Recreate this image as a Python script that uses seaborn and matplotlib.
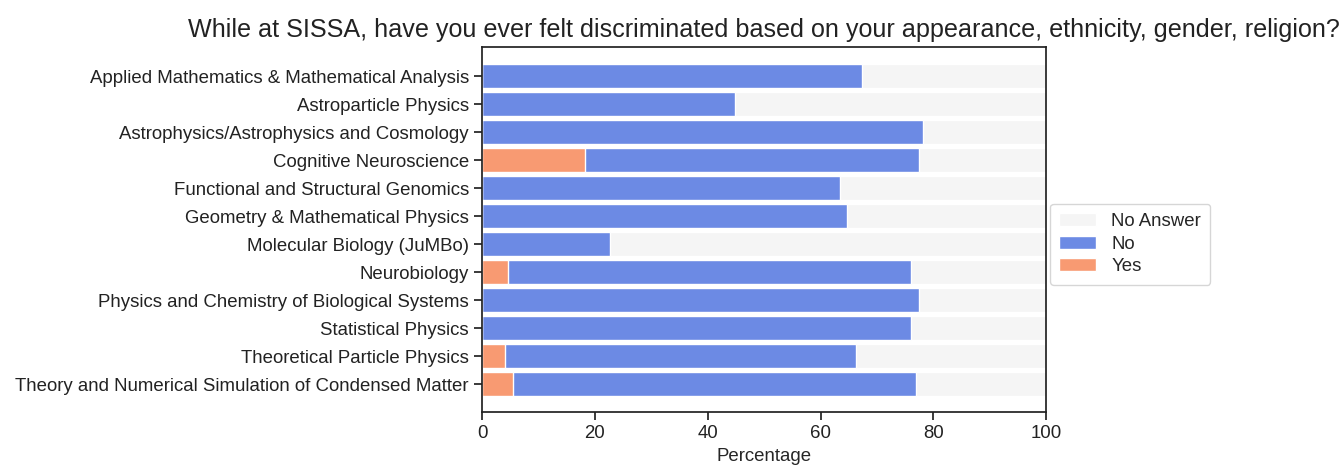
import pandas as pd
import matplotlib
matplotlib.use('Agg')
import matplotlib.pyplot as plt
import seaborn as sns

# --- Data (percentages) ---
groups = [
    'Applied Mathematics & Mathematical Analysis',
    'Astroparticle Physics',
    'Astrophysics/Astrophysics and Cosmology',
    'Cognitive Neuroscience',
    'Functional and Structural Genomics',
    'Geometry & Mathematical Physics',
    'Molecular Biology (JuMBo)',
    'Neurobiology',
    'Physics and Chemistry of Biological Systems',
    'Statistical Physics',
    'Theoretical Particle Physics',
    'Theory and Numerical Simulation of Condensed Matter',
]
yes_pct = [0, 0, 0, 18.3, 0, 0, 0, 4.6, 0, 0, 4.0, 5.5]
no_pct = [67.3, 44.9, 78.2, 59.1, 63.4, 64.7, 22.6, 71.4, 77.4, 76.0, 62.3, 71.4]
no_answer_pct = [32.7, 55.1, 21.8, 22.6, 36.6, 35.3, 77.4, 24.0, 22.6, 24.0, 33.7, 23.1]

df = pd.DataFrame({'Group': groups, 'Yes': yes_pct, 'No': no_pct,
                   'No Answer': no_answer_pct})
df['cum_yes'] = df['Yes']
df['cum_no'] = df['Yes'] + df['No']
df['cum_all'] = df['cum_no'] + df['No Answer']

sns.set_theme(style='ticks')
plt.rcParams['font.family'] = ['Liberation Sans', 'DejaVu Sans']

fig = plt.figure(figsize=(13.43, 4.65), dpi=100)
ax = fig.add_axes([0.359, 0.114, 0.42, 0.785])

sns.barplot(data=df, x='cum_all', y='Group', color='#f5f5f5', orient='h',
            label='No Answer', edgecolor='white', linewidth=1, width=0.85,
            saturation=1, ax=ax)
sns.barplot(data=df, x='cum_no', y='Group', color='#6c8ae4', orient='h',
            label='No', edgecolor='white', linewidth=1, width=0.85,
            saturation=1, ax=ax)
sns.barplot(data=df, x='cum_yes', y='Group', color='#f89a72', orient='h',
            label='Yes', edgecolor='white', linewidth=1, width=0.85,
            saturation=1, ax=ax)

ax.set_xlim(0, 100)
ax.set_ylim(12.0, -1.05)
ax.set_xticks([0, 20, 40, 60, 80, 100])
ax.set_xlabel('Percentage', fontsize=13.4, labelpad=4)
ax.set_ylabel('')
ax.tick_params(axis='both', labelsize=13.4, colors='#222222')
for s in ax.spines.values():
    s.set_color('#222222')
ax.set_title('While at SISSA, have you ever felt discriminated based on your '
             'appearance, ethnicity, gender, religion?', fontsize=18.1,
             color='#222222', pad=7)
ax.legend(loc='center left', bbox_to_anchor=(1.0, 0.46), fontsize=13.4,
          frameon=True, labelspacing=0.3, borderpad=0.5, handletextpad=0.8,
          borderaxespad=0.2)

fig.savefig('out.png', dpi=100)
